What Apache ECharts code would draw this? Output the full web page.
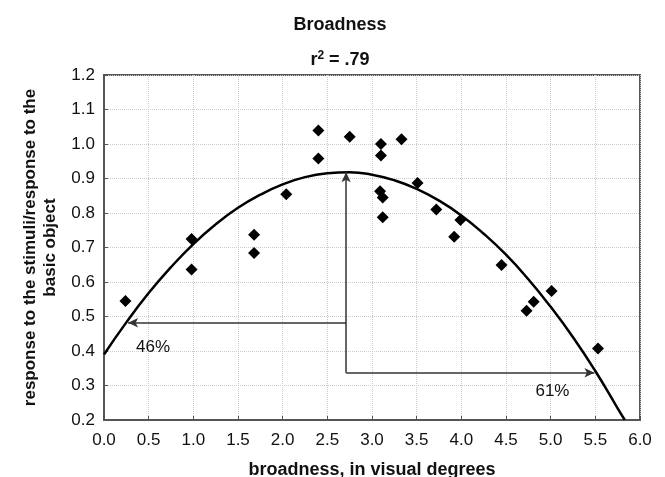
<!DOCTYPE html>
<html><head><meta charset="utf-8">
<script src="https://cdn.jsdelivr.net/npm/echarts@6/dist/echarts.min.js"></script>
<style>html,body{margin:0;padding:0;background:#fff}#c{width:665px;height:477px}</style>
</head><body><div id="c"></div>
<script>
// scatter data: [broadness, response ratio]
const pointsX = [0.24, 0.98, 0.98, 1.68, 1.68, 2.04, 2.40, 2.40, 2.75, 3.10, 3.10, 3.33, 3.09, 3.12, 3.12, 3.51, 3.72, 3.99, 3.92, 4.45, 4.73, 4.81, 5.01, 5.53];
const pointsY = [0.545, 0.725, 0.636, 0.737, 0.684, 0.854, 1.039, 0.958, 1.021, 1.000, 0.967, 1.014, 0.863, 0.845, 0.788, 0.887, 0.810, 0.780, 0.731, 0.649, 0.517, 0.543, 0.574, 0.407];
// fitted curve
const curveX = [0, 0.25, 0.5, 0.75, 1.0, 1.25, 1.5, 1.75, 2.0, 2.25, 2.5, 2.75, 3.0, 3.25, 3.5, 3.75, 4.0, 4.25, 4.5, 4.75, 5.0, 5.25, 5.5, 5.75, 5.83];
const curveY = [0.390, 0.483, 0.568, 0.643, 0.710, 0.767, 0.815, 0.853, 0.883, 0.904, 0.915, 0.918, 0.911, 0.895, 0.870, 0.836, 0.793, 0.740, 0.679, 0.608, 0.528, 0.440, 0.342, 0.234, 0.200];
// annotation arrows
const peakX = 2.71, peakY = 0.918;
const leftArrowY = 0.482, leftArrowX = 0.27;
const rightArrowY = 0.337, rightArrowX = 5.49;
const labels = [{text: '46%', x: 0.55, y: 0.412}, {text: '61%', x: 5.02, y: 0.284}];
const xTicks = ['0.0','0.5','1.0','1.5','2.0','2.5','3.0','3.5','4.0','4.5','5.0','5.5','6.0'];

const chart = echarts.init(document.getElementById('c'));
const font = 'Liberation Sans, Arial, sans-serif';
const arrowStyle = {color: '#333', width: 1.5, type: 'solid'};
const tStyle = {fontFamily: font, fontSize: 18, fontWeight: 'bold', color: '#111'};
chart.setOption({
  animation: false,
  backgroundColor: '#fff',
  title: {
    text: 'Broadness',
    subtext: '{a|r}{s|2}{a| = .79}',
    left: 335, top: 11, textAlign: 'center',
    textStyle: tStyle,
    subtextStyle: Object.assign({}, tStyle, {
      rich: {
        a: tStyle,
        s: {fontFamily: font, fontSize: 12, fontWeight: 'bold', color: '#111', verticalAlign: 'top', padding: [0, 0, 8, 0]}
      }
    }),
    itemGap: 16
  },
  grid: {left: 104, right: 25, top: 75, bottom: 57, outerBoundsMode: 'none', containLabel: false,
    show: true, borderColor: '#555', borderWidth: 2, backgroundColor: 'transparent'},
  xAxis: {
    type: 'value', min: 0, max: 6, interval: 0.5,
    name: 'broadness, in visual degrees', nameLocation: 'middle', nameGap: 41,
    nameTextStyle: {fontFamily: font, fontSize: 18, fontWeight: 'bold', color: '#111'},
    axisLine: {lineStyle: {color: '#555', width: 2}},
    axisTick: {inside: true, length: 4, lineStyle: {color: '#555'}},
    axisLabel: {fontFamily: font, fontSize: 17, color: '#111', margin: 12,
      formatter: v => xTicks[Math.round(v * 2)]},
    splitLine: {show: true, lineStyle: {color: '#ccc', type: 'dotted'}}
  },
  yAxis: {
    type: 'value', min: 0.2, max: 1.2, interval: 0.1,
    name: 'response to the stimuli/response to the\nbasic object', nameLocation: 'middle', nameGap: 44,
    nameTextStyle: {fontFamily: font, fontSize: 17, fontWeight: 'bold', color: '#111', lineHeight: 20},
    axisLine: {lineStyle: {color: '#555', width: 2}},
    axisTick: {inside: true, length: 4, lineStyle: {color: '#555'}},
    axisLabel: {fontFamily: font, fontSize: 17, color: '#111', margin: 9,
      formatter: v => v.toFixed(1)},
    splitLine: {show: true, lineStyle: {color: '#ccc', type: 'dotted'}}
  },
  series: [
    {
      type: 'line', data: curveX.map((x, i) => [x, curveY[i]]),
      smooth: true, showSymbol: false, symbol: 'none',
      lineStyle: {color: '#000', width: 2.5}, z: 3,
      markLine: {
        silent: true, symbol: ['none', 'arrow'], symbolSize: [7, 10],
        label: {show: false}, lineStyle: arrowStyle,
        data: [
          [{coord: [peakX, rightArrowY]}, {coord: [peakX, peakY]}],
          [{coord: [peakX, leftArrowY]}, {coord: [leftArrowX, leftArrowY]}],
          [{coord: [peakX, rightArrowY]}, {coord: [rightArrowX, rightArrowY]}]
        ]
      }
    },
    {
      type: 'scatter', data: pointsX.map((x, i) => [x, pointsY[i]]),
      symbol: 'diamond', symbolSize: 12, itemStyle: {color: '#000', opacity: 1}, z: 4
    },
    {
      type: 'scatter', data: labels.map(l => [l.x, l.y, l.text]),
      symbolSize: 0, silent: true, itemStyle: {opacity: 1},
      label: {show: true, position: 'inside', formatter: p => p.data[2],
        fontFamily: font, fontSize: 17, color: '#111', textBorderWidth: 0}
    }
  ]
});
</script></body></html>
